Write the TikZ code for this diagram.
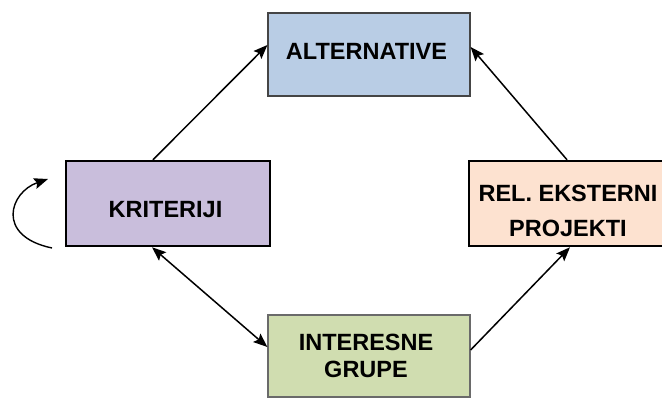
\documentclass[tikz,border=0pt]{standalone}
\usepackage{fontspec}
\setmainfont{Liberation Sans}
\usetikzlibrary{arrows.meta,calc}
\definecolor{altfill}{HTML}{B9CDE5}
\definecolor{kritfill}{HTML}{C9BEDC}
\definecolor{relfill}{HTML}{FDE2D0}
\definecolor{intfill}{HTML}{D0DDB0}
\definecolor{thinborder}{HTML}{454545}
\tikzset{
  box/.style={rectangle, inner sep=0pt},
  lbl/.style={anchor=base, inner sep=0pt, font=\fontsize{23.5}{28}\selectfont\bfseries},
  tip/.tip={Stealth[length=14pt,width=11pt,inset=2.5pt]},
  conn/.style={line width=1.5pt, -tip},
  conn2/.style={line width=1.5pt, tip-tip}
}
\begin{document}
\begin{tikzpicture}[x=1pt,y=-1pt]
\useasboundingbox (0,0) rectangle (662,399);
\node[box, draw=thinborder, line width=1.2pt, fill=altfill, minimum width=202pt, minimum height=83pt] (alt) at (369,54.5) {};
\node[box, draw=black, line width=2.5pt, fill=kritfill, minimum width=204pt, minimum height=85pt] (krit) at (168,203.5) {};
\node[box, draw=black, line width=2.5pt, fill=relfill, minimum width=196pt, minimum height=85pt] (rel) at (567,203.5) {};
\node[box, draw=thinborder!80, line width=1.2pt, fill=intfill, minimum width=202pt, minimum height=82pt] (int) at (369,356) {};

\node[lbl] (talt) at (366.5,59) {ALTERNATIVE};
\node[lbl] (tkrit) at (165.5,217) {KRITERIJI};
\node[lbl] (trel1) at (568,201) {REL. EKSTERNI};
\node[lbl] (trel2) at (568,236) {PROJEKTI};
\node[lbl] (tint1) at (366,350) {INTERESNE};
\node[lbl] (tint2) at (366,377) {GRUPE};

\draw[conn] ([xshift=-15pt]krit.north) -- ([yshift=9.5pt]alt.west);
\draw[conn] ([xshift=0pt]rel.north) -- ([yshift=7.5pt]alt.east);
\draw[conn2] ([xshift=-16pt]krit.south) -- ([yshift=9pt]int.west);
\draw[conn] ([yshift=6pt]int.east) -- ([xshift=3pt]rel.south);

\coordinate (ls) at (52,248);
\coordinate (le) at (48,179);
\draw[conn, line width=1.4pt] (ls) .. controls (-5,236) and (10,192) .. (le);
\end{tikzpicture}
\end{document}
